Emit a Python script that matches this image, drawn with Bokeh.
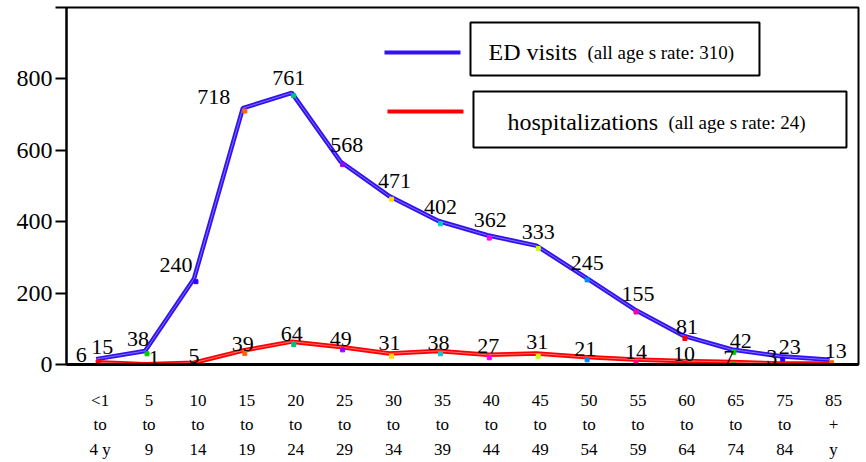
from bokeh.plotting import figure
from bokeh.models import Range1d, LinearAxis, FixedTicker, ColumnDataSource, BoxAnnotation, Label
from bokeh.transform import dodge
from bokeh.core.properties import value
from bokeh.embed import file_html
from bokeh.resources import INLINE

# ---- data ----
age_groups = ["<1\nto\n4 y", "5\nto\n9", "10\nto\n14", "15\nto\n19", "20\nto\n24",
              "25\nto\n29", "30\nto\n34", "35\nto\n39", "40\nto\n44", "45\nto\n49",
              "50\nto\n54", "55\nto\n59", "60\nto\n64", "65\nto\n74", "75\nto\n84", "85\n+\ny"]
ed_visits = [15, 38, 240, 718, 761, 568, 471, 402, 362, 333, 245, 155, 81, 42, 23, 13]
hospitalizations = [6, 1, 5, 39, 64, 49, 31, 38, 27, 31, 21, 14, 10, 7, 3, 3]
hosp_labels = ["6", "1", "5", "39", "64", "49", "31", "38", "27", "31", "21", "14", "10", "7", "3", ""]
y_ticks = [0, 200, 400, 600, 800, 1000]

# ---- styles ----
marker_colors = ["#ff0000", "#00cc00", "#3300ff", "#ff6600", "#00c080", "#9900ff",
                 "#ffdd00", "#00cccc", "#ff00ff", "#ccff00", "#0088ff", "#ff0099",
                 "#ff0000", "#00cc00", "#3300ff", "#ff6600"]
ed_dx = [6, -7, -18, -29, -3, 6, 5, 2, 3, 2, 2, 4, 4, 9, 9, 6]
ed_dy = [-12, -12, -14, -11, -15, -17, -15, -14, -15, -14, -14, -15, -9, -9, -9, -9]
ho_dx = [-15, 9, 0, 0, 0, 0, 0, 0, 1, 1, 0, 2, 1, -3, -9, 0]
ho_dy = [-7, -6, -7, -7, -8, -8, -10, -8, -9, -11, -8, -8, -7, -4, -6, -7]

FONT = "'Liberation Serif'"
BLUE = "#3212f0"
RED = "#ff0000"

idx = list(range(len(ed_visits)))
src = ColumnDataSource(dict(
    x=idx, ed=ed_visits, ho=hospitalizations,
    ed_lab=[str(v) for v in ed_visits], ho_lab=hosp_labels,
    c=marker_colors, edx=ed_dx, edy=ed_dy, hox=ho_dx, hoy=ho_dy,
))

p = figure(width=862, height=462, output_backend="svg", toolbar_location=None,
           x_range=Range1d(-0.607, 15.59), y_range=Range1d(0, 1000),
           x_axis_location=None, y_axis_location=None,
           min_border_left=66, min_border_right=4, min_border_top=7, min_border_bottom=98)
p.grid.visible = False
p.background_fill_color = "white"
p.border_fill_color = "white"
p.outline_line_color = "black"
p.outline_line_width = 2

# y axis
yax = LinearAxis(ticker=FixedTicker(ticks=y_ticks))
yax.major_label_overrides = {1000: ""}
yax.axis_line_width = 2
yax.major_tick_line_width = 2
yax.major_tick_out = 11
yax.major_tick_in = 0
yax.minor_tick_line_color = None
yax.major_label_text_font = FONT
yax.major_label_text_font_size = "24px"
yax.major_label_text_color = "black"
yax.major_label_standoff = 3
p.add_layout(yax, "left")

# x axis with category labels (slightly shifted range for label placement)
p.extra_x_ranges = {"lab": Range1d(-0.687, 15.51)}
xax = LinearAxis(x_range_name="lab", ticker=FixedTicker(ticks=idx))
xax.major_label_overrides = {i: s for i, s in enumerate(age_groups)}
xax.axis_line_width = 3
xax.major_tick_out = 0
xax.major_tick_in = 0
xax.minor_tick_line_color = None
xax.major_label_text_font = FONT
xax.major_label_text_font_size = "17px"
xax.major_label_text_color = "black"
xax.major_label_text_line_height = 1.3
xax.major_label_standoff = 26
p.add_layout(xax, "below")

# lines
p.line("x", "ed", source=src, line_color=BLUE, line_width=4.5)
p.line("x", "ed", source=src, line_color="#7f70ff", line_width=1)
p.line("x", "ho", source=src, line_color=RED, line_width=4.5)
p.line("x", "ho", source=src, line_color="#ff7070", line_width=1)

# small point markers
p.scatter(x=dodge("x", 0.04), y=dodge("ed", -8), source=src, marker="square",
          size=4, fill_color="c", line_color="c")
p.scatter(x=dodge("x", 0.04), y=dodge("ho", -8), source=src, marker="square",
          size=4, fill_color="c", line_color="c")

# data labels
p.text("x", "ed", text="ed_lab", source=src, x_offset="edx", y_offset="edy",
       text_align="center", text_baseline="middle", text_font=value(FONT),
       text_font_size="22px", text_color="black")
p.text("x", "ho", text="ho_lab", source=src, x_offset="hox", y_offset="hoy",
       text_align="center", text_baseline="middle", text_font=value(FONT),
       text_font_size="22px", text_color="black")

# legend (custom boxes)
p.add_layout(BoxAnnotation(left=7.655, right=13.565, top=958, bottom=809.5,
                           fill_color="white", fill_alpha=1, line_color="black",
                           line_alpha=1, line_width=2))
p.add_layout(BoxAnnotation(left=7.716, right=15.344, top=764.7, bottom=607.8,
                           fill_color="white", fill_alpha=1, line_color="black",
                           line_alpha=1, line_width=2))
p.segment(x0=[5.896], y0=[874], x1=[7.450], y1=[874], line_color=BLUE, line_width=4)
p.segment(x0=[5.957], y0=[708.7], x1=[7.511], y1=[708.7], line_color=RED, line_width=4)

p.add_layout(Label(x=8.023, y=874, text="ED visits", text_font=FONT, text_font_size="24px",
                   text_baseline="alphabetic", text_color="black"))
p.add_layout(Label(x=10.047, y=874, text="(all age s rate: 310)", text_font=FONT,
                   text_font_size="19px", text_baseline="alphabetic", text_color="black"))
p.add_layout(Label(x=8.411, y=677.9, text="hospitalizations", text_font=FONT, text_font_size="24px",
                   text_baseline="alphabetic", text_color="black"))
p.add_layout(Label(x=11.704, y=677.9, text="(all age s rate: 24)", text_font=FONT,
                   text_font_size="19px", text_baseline="alphabetic", text_color="black"))

open("out.html", "w").write(file_html(p, INLINE))
